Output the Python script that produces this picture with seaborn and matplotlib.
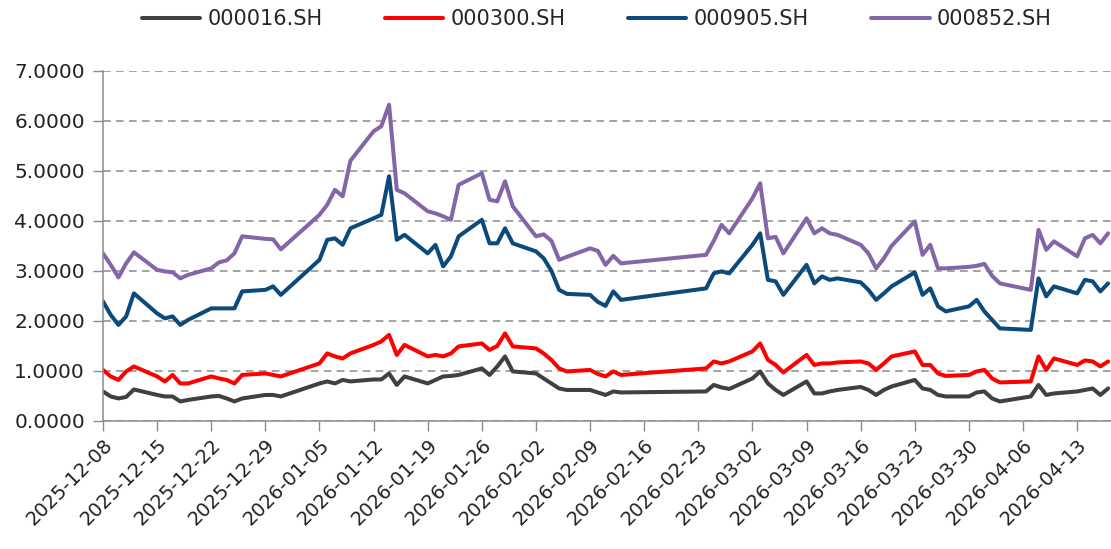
import pandas as pd
import numpy as np
import matplotlib
matplotlib.use("Agg")
import matplotlib.pyplot as plt
import matplotlib.dates as mdates
from matplotlib.ticker import FormatStrFormatter
import seaborn as sns

# ===============================
# 1. DATA
# ===============================
codes = ["000016.SH", "000300.SH", "000905.SH", "000852.SH"]
colors = ["#404040", "#ff0000", "#0c4a7c", "#8466a8"]

# exchange holidays inside the window
holidays = ["2026-01-01", "2026-01-02", "2026-02-16", "2026-02-17", "2026-02-18",
            "2026-02-19", "2026-02-20", "2026-02-23", "2026-04-06"]
trade_days = pd.bdate_range("2025-12-08", "2026-04-17", freq="C", holidays=holidays)

tick_start = "2025-12-08"
tick_end = "2026-04-13"

sh000016 = [0.59, 0.49, 0.45, 0.48, 0.63,
            0.52, 0.49, 0.49, 0.39, 0.42,
            0.49, 0.50, 0.45, 0.39, 0.45,
            0.52, 0.52, 0.49,
            0.75, 0.79, 0.75, 0.82, 0.79,
            0.83, 0.83, 0.95, 0.72, 0.89,
            0.75, 0.82, 0.89, 0.90, 0.92,
            1.05, 0.92, 1.09, 1.29, 0.99,
            0.95, 0.85, 0.75, 0.65, 0.62,
            0.62, 0.57, 0.52, 0.59, 0.57,
            0.59, 0.72, 0.67, 0.64,
            0.85, 0.99, 0.75, 0.62, 0.52,
            0.79, 0.55, 0.55, 0.59, 0.62,
            0.68, 0.62, 0.52, 0.62, 0.69,
            0.82, 0.65, 0.62, 0.52, 0.49,
            0.49, 0.57, 0.59, 0.45, 0.39,
            0.49, 0.72, 0.52, 0.55,
            0.59, 0.62, 0.65, 0.52, 0.65]

sh000300 = [1.02, 0.89, 0.82, 0.99, 1.09,
            0.89, 0.79, 0.92, 0.75, 0.75,
            0.89, 0.85, 0.82, 0.75, 0.92,
            0.95, 0.92, 0.89,
            1.15, 1.35, 1.29, 1.25, 1.35,
            1.52, 1.59, 1.72, 1.32, 1.52,
            1.29, 1.32, 1.29, 1.35, 1.49,
            1.55, 1.42, 1.50, 1.75, 1.49,
            1.45, 1.35, 1.22, 1.05, 0.99,
            1.02, 0.94, 0.89, 0.99, 0.92,
            1.05, 1.19, 1.15, 1.19,
            1.39, 1.55, 1.22, 1.12, 0.97,
            1.32, 1.12, 1.15, 1.15, 1.17,
            1.19, 1.15, 1.02, 1.15, 1.29,
            1.39, 1.12, 1.12, 0.95, 0.90,
            0.92, 0.99, 1.02, 0.85, 0.77,
            0.79, 1.29, 1.02, 1.25,
            1.12, 1.21, 1.19, 1.09, 1.19]

sh000905 = [2.39, 2.12, 1.92, 2.09, 2.55,
            2.15, 2.05, 2.09, 1.92, 2.02,
            2.25, 2.25, 2.25, 2.25, 2.59,
            2.62, 2.69, 2.52,
            3.22, 3.62, 3.65, 3.52, 3.85,
            4.05, 4.12, 4.89, 3.62, 3.72,
            3.35, 3.52, 3.09, 3.29, 3.69,
            4.02, 3.55, 3.55, 3.85, 3.55,
            3.39, 3.25, 3.00, 2.62, 2.54,
            2.52, 2.38, 2.30, 2.59, 2.42,
            2.65, 2.95, 2.99, 2.95,
            3.52, 3.75, 2.82, 2.79, 2.52,
            3.12, 2.75, 2.89, 2.82, 2.85,
            2.77, 2.62, 2.42, 2.55, 2.69,
            2.97, 2.52, 2.65, 2.29, 2.19,
            2.29, 2.42, 2.19, 2.02, 1.85,
            1.82, 2.85, 2.49, 2.69,
            2.55, 2.82, 2.79, 2.59, 2.75]

sh000852 = [3.35, 3.12, 2.87, 3.15, 3.37,
            3.02, 2.99, 2.97, 2.85, 2.92,
            3.05, 3.17, 3.21, 3.35, 3.69,
            3.64, 3.63, 3.43,
            4.12, 4.32, 4.62, 4.49, 5.20,
            5.79, 5.89, 6.32, 4.62, 4.55,
            4.19, 4.15, 4.09, 4.02, 4.72,
            4.95, 4.42, 4.39, 4.79, 4.29,
            3.69, 3.73, 3.60, 3.22, 3.28,
            3.45, 3.40, 3.12, 3.30, 3.15,
            3.32, 3.60, 3.92, 3.75,
            4.45, 4.75, 3.65, 3.68, 3.35,
            4.05, 3.75, 3.85, 3.75, 3.72,
            3.52, 3.35, 3.05, 3.25, 3.50,
            3.99, 3.32, 3.52, 3.05, 3.05,
            3.08, 3.10, 3.14, 2.90, 2.75,
            2.62, 3.82, 3.42, 3.59,
            3.29, 3.65, 3.72, 3.55, 3.75]

series = [sh000016, sh000300, sh000905, sh000852]

# long-form table for seaborn
frames = []
for code, vals in zip(codes, series):
    frames.append(pd.DataFrame({"date": trade_days, "value": vals, "code": code}))
df = pd.concat(frames, ignore_index=True)

# ===============================
# 2. PLOT
# ===============================
sns.set_theme(style="white")
plt.rcParams["font.family"] = ["DejaVu Sans"]

fig = plt.figure(figsize=(11.11, 5.49), dpi=100)
ax = fig.add_axes([0.0927, 0.2332, 0.907, 0.638])

sns.lineplot(data=df, x="date", y="value", hue="code", hue_order=codes,
             palette=dict(zip(codes, colors)), linewidth=2.9, ax=ax)

ax.set_ylim(0, 7)
ax.set_xlim(pd.Timestamp("2025-12-08"), pd.Timestamp("2026-04-17 08:00"))
ax.set_xlabel("")
ax.set_ylabel("")

ax.yaxis.set_major_formatter(FormatStrFormatter("%.4f"))
ax.set_xticks(pd.date_range(tick_start, tick_end, freq="7D"))
ax.xaxis.set_major_formatter(mdates.DateFormatter("%Y-%m-%d"))

ax.tick_params(axis="both", colors="#222222", length=7, width=1,
               direction="out", bottom=True, left=True)
ax.tick_params(axis="both", color="#8c8c8c")
ax.tick_params(axis="y", pad=6, labelsize=14.5)
ax.tick_params(axis="x", labelsize=14)
plt.setp(ax.get_xticklabels(), rotation=45, ha="right", rotation_mode="anchor")

ax.grid(axis="y", linestyle=(0, (5, 3.5)), color="#8a8a8a", linewidth=1.1)
ax.grid(axis="x", visible=False)

for side in ["top", "right"]:
    ax.spines[side].set_visible(False)
for side in ["left", "bottom"]:
    ax.spines[side].set_color("#8c8c8c")
    ax.spines[side].set_linewidth(1.1)

sns.move_legend(ax, "center", bbox_to_anchor=(0.49, 1.148), ncol=4, frameon=False,
                title=None, fontsize=15, handlelength=2.8, handletextpad=0.35,
                columnspacing=3.0)

fig.savefig("out.png", dpi=100)
